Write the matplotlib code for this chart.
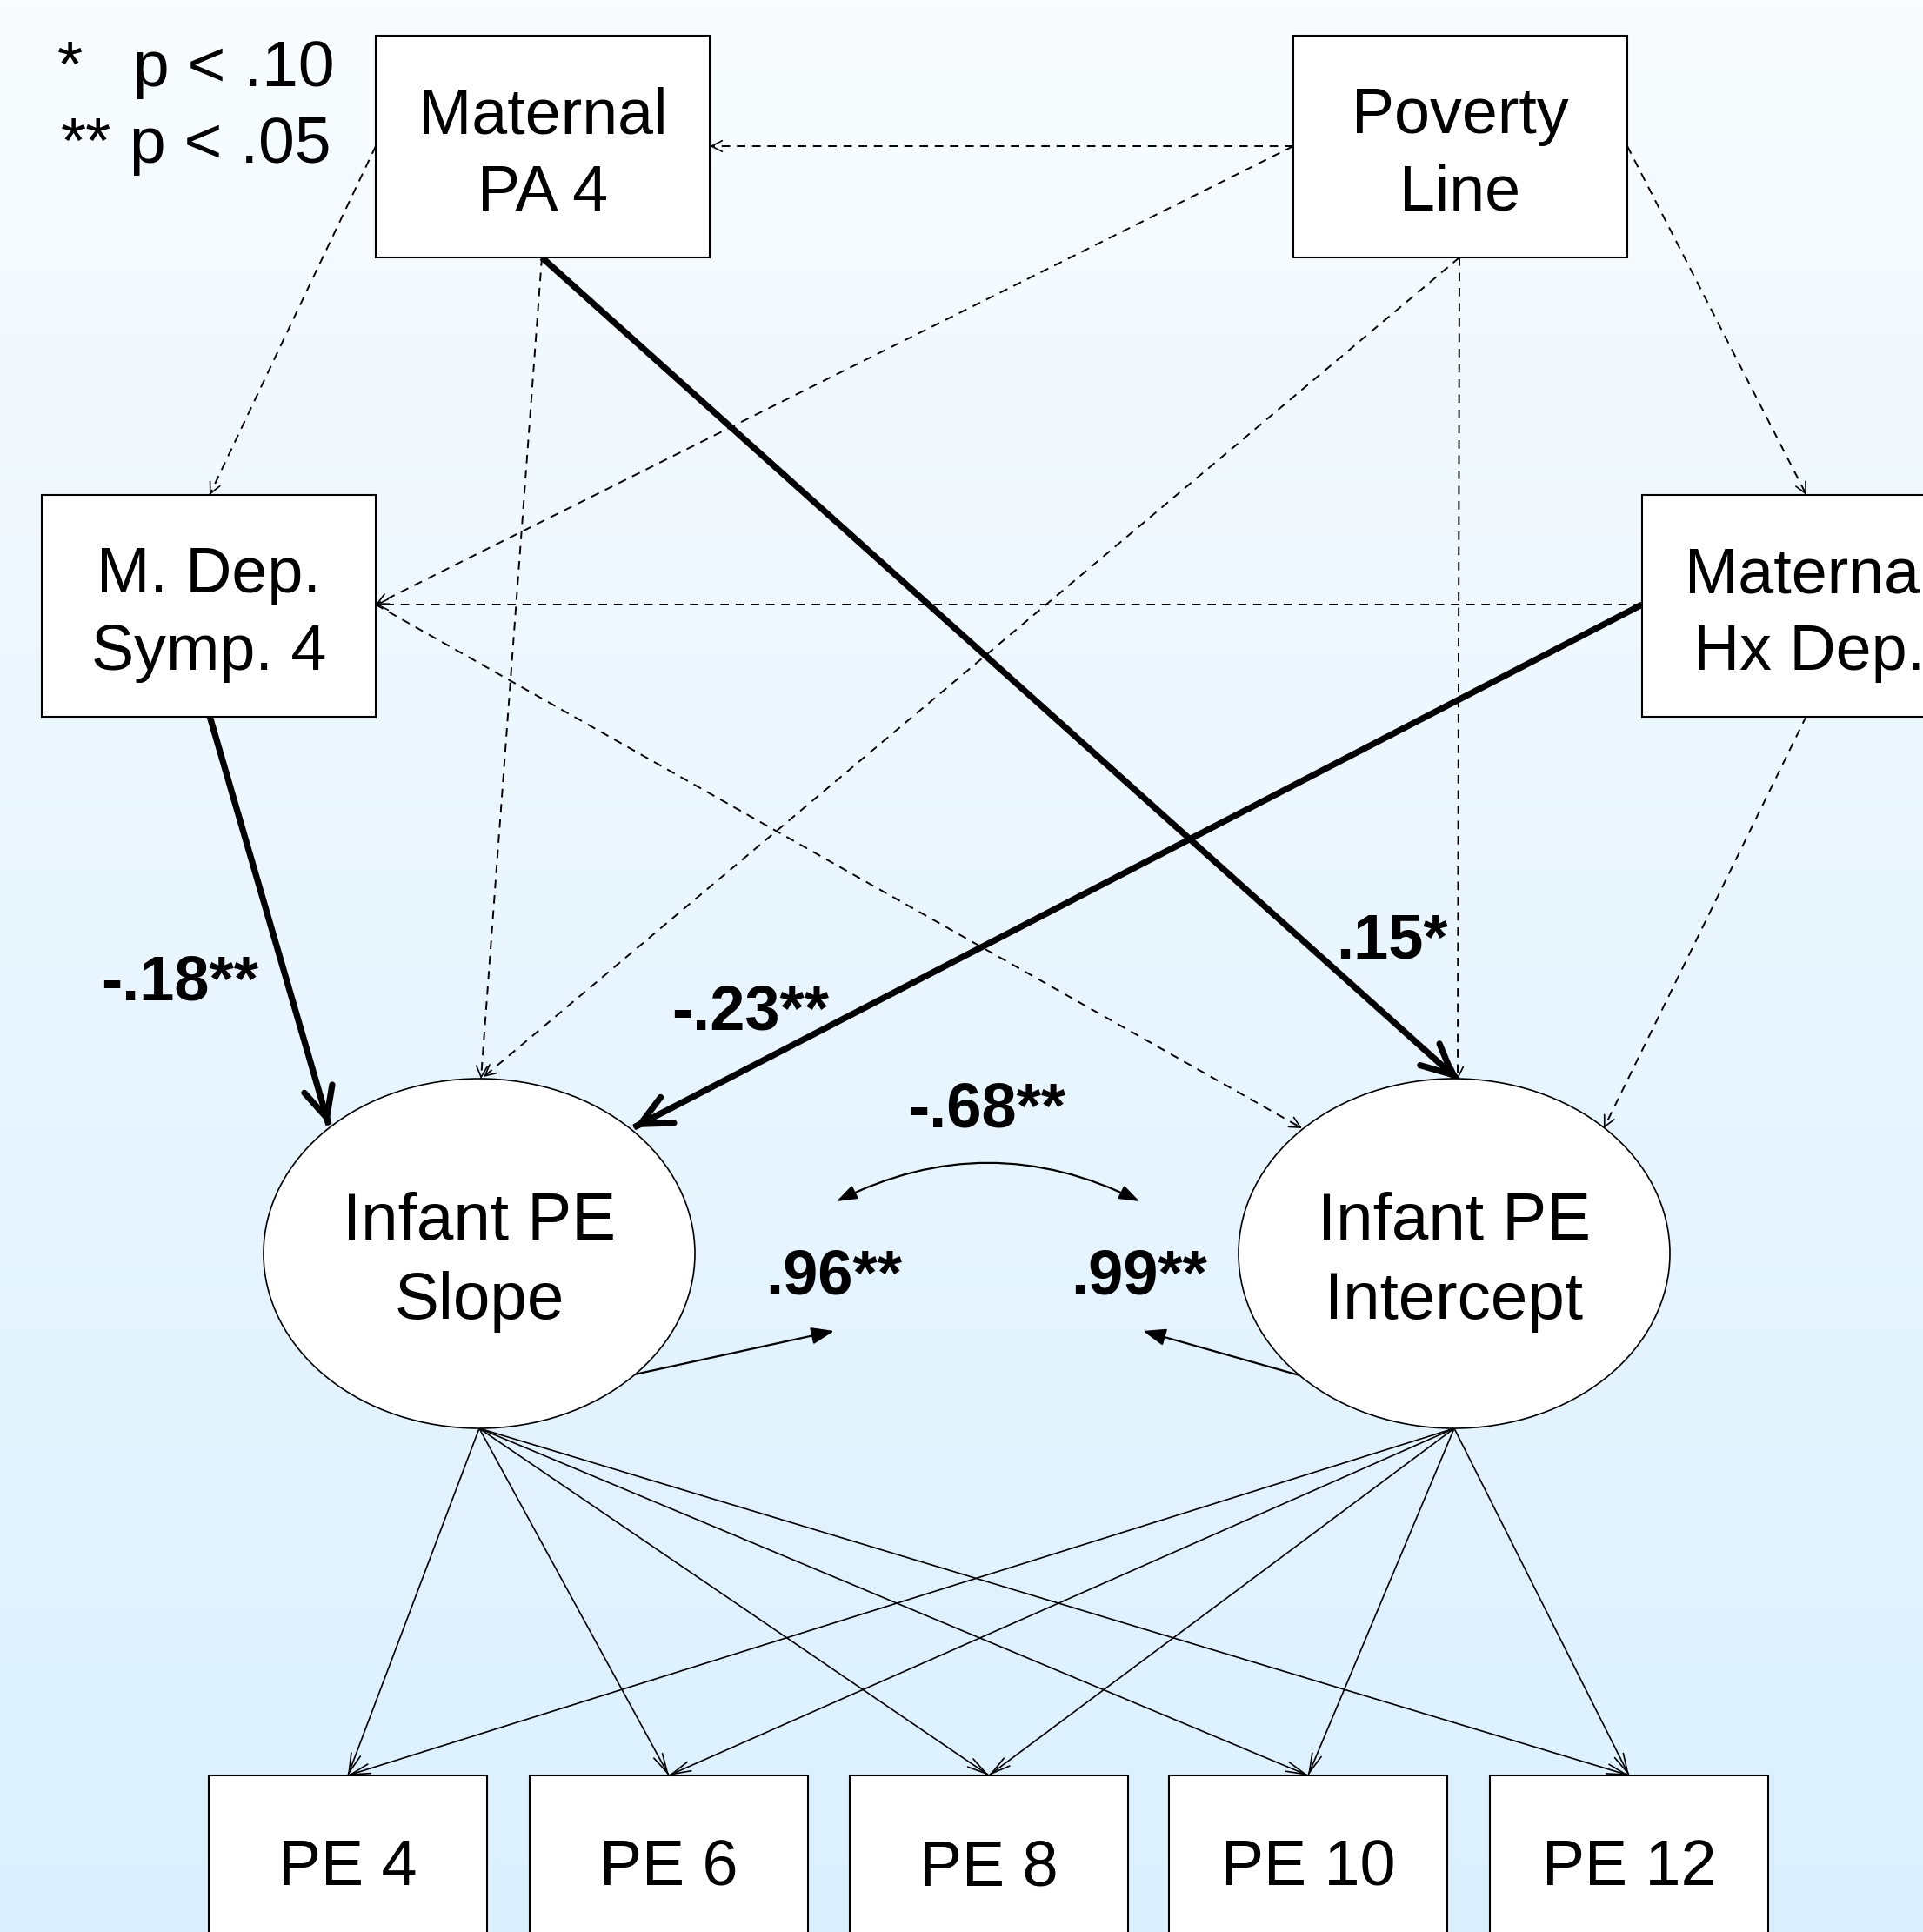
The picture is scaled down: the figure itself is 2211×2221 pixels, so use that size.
import matplotlib.pyplot as plt
import numpy as np
from matplotlib.patches import Rectangle, Ellipse, FancyArrowPatch

plt.rcParams['font.family'] = ['Liberation Sans', 'DejaVu Sans']

W, H = 2211, 2221

# labels
box_labels = ['Maternal\nPA 4', 'Poverty\nLine', 'M. Dep.\nSymp. 4', 'Maternal\nHx Dep.']
latent_labels = ['Infant PE\nSlope', 'Infant PE\nIntercept']
indicator_labels = ['PE 4', 'PE 6', 'PE 8', 'PE 10', 'PE 12']
path_coefs = ['-.18**', '-.23**', '.15*']
cov_coef = '-.68**'
resid_coefs = ['.96**', '.99**']
legend_rows = [('*', 'p < .10'), ('**', 'p < .05')]

# layout (pixel coords, y down)
box_w, box_h = 384, 255
box_xy = [(432, 41), (1487, 41), (48, 569), (1888, 569)]
ell_c = [(551, 1441), (1672, 1441)]
ell_w, ell_h = 496, 402
pe_x = [240, 609, 977, 1344, 1713]
pe_w, pe_y = 320, 2041

fig = plt.figure(figsize=(W / 100, H / 100), dpi=100)
ax = fig.add_axes([0, 0, 1, 1])
ax.set_xlim(0, W)
ax.set_ylim(H, 0)
ax.axis('off')

# background gradient
top = np.array([248, 252, 255]) / 255
bot = np.array([219, 240, 254]) / 255
t = np.linspace(0, 1, 256)[:, None]
grad = (top[None, :] * (1 - t) + bot[None, :] * t)[:, None, :]
ax.imshow(grad, extent=[0, W, H, 0], aspect='auto', zorder=0)


def head(p0, p1, lw, hl, hw, style='->'):
    p0 = np.array(p0, float); p1 = np.array(p1, float)
    d = (p1 - p0) / np.hypot(*(p1 - p0))
    a = FancyArrowPatch(p1 - d * 3, p1, arrowstyle=f'{style},head_length={hl},head_width={hw}',
                        mutation_scale=1, lw=lw, color='black', shrinkA=0, shrinkB=0,
                        zorder=4, joinstyle='miter')
    ax.add_patch(a)


def dashed(p0, p1):
    ax.plot([p0[0], p1[0]], [p0[1], p1[1]], color='black', lw=1.4, ls=(0, (5, 4)), zorder=2)
    head(p0, p1, 1.2, 9, 4.5)


def solid(p0, p1, lw, hl, hw):
    ax.plot([p0[0], p1[0]], [p0[1], p1[1]], color='black', lw=lw, zorder=3,
            solid_capstyle='butt')
    head(p0, p1, lw, hl, hw)


# dashed (non-significant) paths
dashed((1487, 168), (816, 168))
dashed((1487, 168), (432, 695))
dashed((1678, 296), (556, 1238))
dashed((1678, 296), (1676, 1241))
dashed((1871, 168), (2077, 569))
dashed((432, 168), (241, 569))
dashed((623, 296), (553, 1240))
dashed((1888, 695), (432, 695))
dashed((432, 695), (1497, 1297))
dashed((2077, 823), (1844, 1297))

# significant paths
solid((241, 823), (378, 1293), 5.2, 25, 12)
solid((1888, 695), (729, 1296), 5.2, 25, 12)
solid((623, 296), (1676, 1241), 5.2, 25, 12)

# loadings
for x in pe_x:
    tgt = (x + pe_w / 2, pe_y)
    for c in ell_c:
        solid((c[0], c[1] + ell_h / 2), tgt, 1.2, 16, 4)

# residual arrows
ax.add_patch(FancyArrowPatch((725, 1581), (959, 1530), arrowstyle='-|>,head_length=16,head_width=6',
                             mutation_scale=1, lw=1.6, color='black', shrinkA=0, shrinkB=0, zorder=4))
ax.add_patch(FancyArrowPatch((1494, 1581), (1314, 1530), arrowstyle='-|>,head_length=16,head_width=6',
                             mutation_scale=1, lw=1.6, color='black', shrinkA=0, shrinkB=0, zorder=4))
# covariance
ax.add_patch(FancyArrowPatch((962, 1381), (1310, 1381), arrowstyle='<|-|>,head_length=14,head_width=5',
                             connectionstyle='arc3,rad=-0.25', mutation_scale=1, lw=1.6,
                             color='black', shrinkA=0, shrinkB=0, zorder=4))

# boxes
for (x, y), lab in zip(box_xy, box_labels):
    ax.add_patch(Rectangle((x, y), box_w, box_h, fc='white', ec='black', lw=1.5, zorder=5))
    l1, l2 = lab.split('\n')
    cx = x + box_w / 2
    ax.text(cx, y + 112, l1, fontsize=53, ha='center', va='baseline', zorder=6, clip_on=True)
    ax.text(cx, y + 201, l2, fontsize=53, ha='center', va='baseline', zorder=6, clip_on=True)

for c, lab in zip(ell_c, latent_labels):
    ax.add_patch(Ellipse(c, ell_w, ell_h, fc='white', ec='black', lw=1.2, zorder=5))
    l1, l2 = lab.split('\n')
    ax.text(c[0], c[1] - 16, l1, fontsize=55, ha='center', va='baseline', zorder=6)
    ax.text(c[0], c[1] + 75, l2, fontsize=55, ha='center', va='baseline', zorder=6)

for x, lab in zip(pe_x, indicator_labels):
    ax.add_patch(Rectangle((x, pe_y), pe_w, 400, fc='white', ec='black', lw=1.5, zorder=5))
    ax.text(x + pe_w / 2, 2167, lab, fontsize=53, ha='center', va='baseline', zorder=6)

# coefficients
bold = dict(fontsize=52, fontweight='bold', ha='center', va='baseline', zorder=6)
ax.text(207, 1150, path_coefs[0], **bold)
ax.text(863, 1184, path_coefs[1], **bold)
ax.text(1600, 1102, path_coefs[2], **bold)
ax.text(1135, 1295, cov_coef, **bold)
ax.text(959, 1487, resid_coefs[0], **bold)
ax.text(1310, 1487, resid_coefs[1], **bold)

# significance legend
ax.text(66, 99, legend_rows[0][0], fontsize=54, ha='left', va='baseline')
ax.text(153, 99, legend_rows[0][1], fontsize=54, ha='left', va='baseline')
ax.text(70, 187, legend_rows[1][0], fontsize=54, ha='left', va='baseline')
ax.text(149, 187, legend_rows[1][1], fontsize=54, ha='left', va='baseline')

fig.savefig('out.png', dpi=100)
